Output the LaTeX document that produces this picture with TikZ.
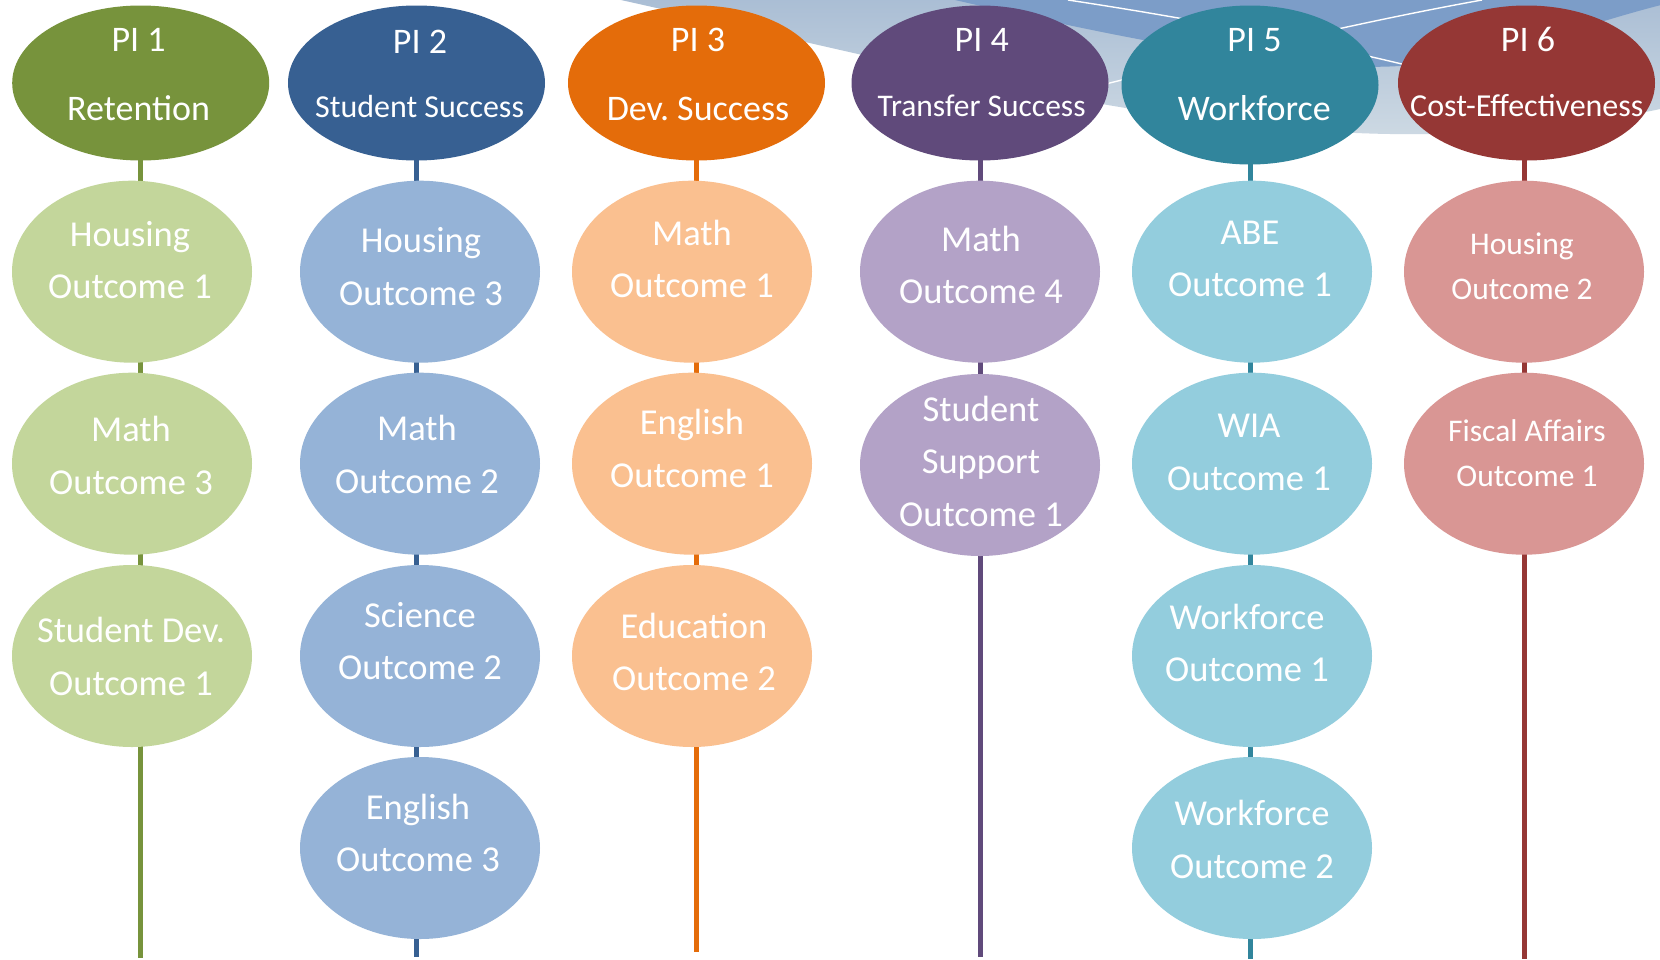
\documentclass[tikz,border=0pt]{standalone}
\usepackage{fontspec}
\setmainfont{Carlito}
\frenchspacing
\usetikzlibrary{shapes.geometric}
\pgfdeclarelayer{bg}
\pgfsetlayers{bg,main}
\definecolor{piA}{HTML}{77933C}\definecolor{ocA}{HTML}{C3D69B}
\definecolor{piB}{HTML}{376092}\definecolor{ocB}{HTML}{95B3D7}
\definecolor{piC}{HTML}{E46C0A}\definecolor{ocC}{HTML}{FAC090}
\definecolor{piD}{HTML}{604A7B}\definecolor{ocD}{HTML}{B3A2C7}
\definecolor{piE}{HTML}{31859C}\definecolor{ocE}{HTML}{93CDDD}
\definecolor{piF}{HTML}{953735}\definecolor{ocF}{HTML}{D99694}
\definecolor{bandlight}{HTML}{A9BDD4}
\definecolor{bandpale}{HTML}{CDD9E3}
\definecolor{banddark}{HTML}{7C9DC8}
\tikzset{
  pinode/.style={ellipse, draw=none, inner sep=0pt, minimum width=257pt, minimum height=155pt},
  outnode/.style={ellipse, draw=none, inner sep=0pt, minimum width=240pt, minimum height=182pt},
  bigtxt/.style={text=white, anchor=base, inner sep=0pt, font=\fontsize{36}{43}\selectfont},
  smalltxt/.style={text=white, anchor=base, inner sep=0pt, font=\fontsize{32}{38}\selectfont},
  otxt/.style={text=white, anchor=base, inner sep=0pt, align=center, font=\fontsize{36.5}{52.5}\selectfont},
  otxts/.style={text=white, anchor=base, inner sep=0pt, align=center, font=\fontsize{31.5}{44.6}\selectfont},
  stem/.style={line width=5pt},
  wline/.style={draw=white, line width=1.4pt}
}
\begin{document}
\begin{tikzpicture}[x=1pt,y=-1pt]
\useasboundingbox (0,0) rectangle (1660,959);
% line end points
\coordinate (e1) at (140.7,958);
\coordinate (e2) at (416.5,957);
\coordinate (e3) at (696,952);
\coordinate (e4) at (980,957);
\coordinate (e5) at (1250.5,959);
\coordinate (e6) at (1524,959);
% PI ellipses
\node[pinode, fill=piA] (p1) at (140.7,83) {};
\node[pinode, fill=piB] (p2) at (416.5,83) {};
\node[pinode, fill=piC] (p3) at (696.5,83) {};
\node[pinode, fill=piD] (p4) at (980,83) {};
\node[pinode, fill=piE, minimum height=159pt] (p5) at (1250,85) {};
\node[pinode, fill=piF] (p6) at (1526.5,83) {};
% PI texts
\node[bigtxt] (p1a) at (138.6,51.7) {PI 1};
\node[bigtxt] (p1b) at (138.6,120.7) {Retention};
\node[bigtxt] (p2a) at (420,53.3) {PI 2};
\node[smalltxt] (p2b) at (419.6,117.3) {Student Success};
\node[bigtxt] (p3a) at (698,51.7) {PI 3};
\node[bigtxt] (p3b) at (698,120.7) {Dev. Success};
\node[bigtxt] (p4a) at (981.7,51.7) {PI 4};
\node[smalltxt, font=\fontsize{31.5}{38}\selectfont] (p4b) at (981.6,116) {Transfer Success};
\node[bigtxt] (p5a) at (1254.5,51.7) {PI 5};
\node[bigtxt] (p5b) at (1254.3,120.7) {Workforce};
\node[bigtxt] (p6a) at (1528,51.7) {PI 6};
\node[smalltxt] (p6b) at (1526.8,116) {Cost-Effectiveness};
% outcome ellipses
\node[outnode, fill=ocA] (o11) at (132,271.7) {};
\node[outnode, fill=ocA] (o12) at (132,463.7) {};
\node[outnode, fill=ocA] (o13) at (132,656) {};
\node[outnode, fill=ocB] (o21) at (420,271.7) {};
\node[outnode, fill=ocB] (o22) at (420,463.7) {};
\node[outnode, fill=ocB] (o23) at (420,656) {};
\node[outnode, fill=ocB] (o24) at (420,848) {};
\node[outnode, fill=ocC] (o31) at (692,271.7) {};
\node[outnode, fill=ocC] (o32) at (692,463.7) {};
\node[outnode, fill=ocC] (o33) at (692,656) {};
\node[outnode, fill=ocD] (o41) at (980,271.7) {};
\node[outnode, fill=ocD] (o42) at (980,465) {};
\node[outnode, fill=ocE] (o51) at (1252,271.7) {};
\node[outnode, fill=ocE] (o52) at (1252,463.7) {};
\node[outnode, fill=ocE] (o53) at (1252,656) {};
\node[outnode, fill=ocE] (o54) at (1252,848) {};
\node[outnode, fill=ocF] (o61) at (1524,271.7) {};
\node[outnode, fill=ocF] (o62) at (1524,463.7) {};
% outcome texts (anchored on the baseline of the last line)
\node[otxt] (t11) at (130,298.7) {Housing\\Outcome 1};
\node[otxt] (t12) at (131,494.4) {Math\\Outcome 3};
\node[otxt] (t13) at (131,695.3) {Student Dev.\\Outcome 1};
\node[otxt] (t21) at (421,305) {Housing\\Outcome 3};
\node[otxt] (t22) at (417,493) {Math\\Outcome 2};
\node[otxt] (t23) at (420,679.7) {Science\\Outcome 2};
\node[otxt] (t24) at (418,871.5) {English\\Outcome 3};
\node[otxt] (t31) at (692,297.6) {Math\\Outcome 1};
\node[otxt] (t32) at (692,487.4) {English\\Outcome 1};
\node[otxt] (t33) at (694,690.8) {Education\\Outcome 2};
\node[otxt] (t41) at (981,303.9) {Math\\Outcome 4};
\node[otxt] (t42) at (981,526.2) {Student\\Support\\Outcome 1};
\node[otxt] (t51) at (1250,296.9) {ABE\\Outcome 1};
\node[otxt] (t52) at (1249,490) {WIA\\Outcome 1};
\node[otxt] (t53) at (1247,681.6) {Workforce\\Outcome 1};
\node[otxt] (t54) at (1252,878) {Workforce\\Outcome 2};
\node[otxts] (t61) at (1522,299.5) {Housing\\Outcome 2};
\node[otxts] (t62) at (1527,486.3) {Fiscal Affairs\\Outcome 1};
\begin{pgfonlayer}{bg}
  \fill[white] (0,0) rectangle (1660,959);
  \begin{scope}
    \clip (0,0) rectangle (1660,959);
    % light band
    \shade[top color=bandlight, middle color=bandlight, bottom color=bandpale]
      (590,-5) -- (621,0) .. controls (900,62) and (1150,130) .. (1390,134)
      .. controls (1500,136) and (1600,122) .. (1665,108) -- (1665,-5) -- cycle;
    % dark band
    \fill[banddark] (955,0) .. controls (1150,45) and (1300,72) .. (1400,66)
      .. controls (1500,60) and (1580,25) .. (1665,4) -- (1665,-5) -- (950,-5) -- cycle;
    % thin white lines
    \draw[wline] (1068,0) .. controls (1200,20) and (1330,45) .. (1450,76);
    \draw[wline] (1090,88) .. controls (1220,55) and (1360,22) .. (1482,0);
  \end{scope}
  % stems
  \draw[stem, draw=piA] (e1 |- p1.center) -- (e1);
  \draw[stem, draw=piB] (e2 |- p2.center) -- (e2);
  \draw[stem, draw=piC] (e3 |- p3.center) -- (e3);
  \draw[stem, draw=piD] (e4 |- p4.center) -- (e4);
  \draw[stem, draw=piE] (e5 |- p5.center) -- (e5);
  \draw[stem, draw=piF] (e6 |- p6.center) -- (e6);
\end{pgfonlayer}
\end{tikzpicture}
\end{document}
